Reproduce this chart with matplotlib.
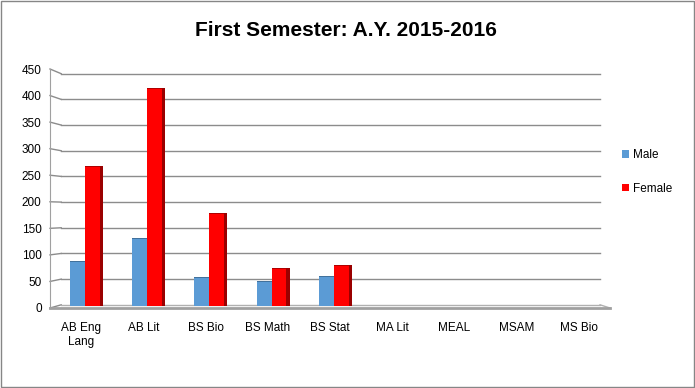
import matplotlib.pyplot as plt
import numpy as np

programs = ["AB Eng\nLang", "AB Lit", "BS Bio", "BS Math", "BS Stat",
            "MA Lit", "MEAL", "MSAM", "MS Bio"]
male = [85, 128, 56, 48, 58, 0, 0, 0, 0]
female = [265, 412, 176, 73, 78, 0, 0, 0, 0]
yticks = [0, 50, 100, 150, 200, 250, 300, 350, 400, 450]

plt.rcParams['font.family'] = ['Liberation Sans', 'DejaVu Sans']

fig = plt.figure(figsize=(6.95, 3.88), dpi=100)
# axes placed to match the plot area (pixels: x 50..610, y 69..308)
ax = fig.add_axes([50 / 695, (388 - 308) / 388, 560 / 695, 239 / 388])

x = np.arange(len(programs))
w = 0.24
grid_c = '#8c8c8c'

# back wall gridlines with a small perspective step from the front axis
for v in yticks:
    vb = 6 + 0.967 * v
    ax.plot([-0.5, -0.32], [v, vb], color=grid_c, lw=1, zorder=1, clip_on=False)
    if v > 0:
        ax.plot([-0.32, 8.34], [vb, vb], color=grid_c, lw=1, zorder=1, clip_on=False)
# floor
ax.plot([-0.32, 8.34], [6, 6], color='#b0b0b0', lw=1, zorder=1, clip_on=False)
ax.plot([8.34, 8.5], [6, 0], color='#b0b0b0', lw=1, zorder=1, clip_on=False)
ax.plot([-0.5, 8.5], [0, 0], color='#a0a0a0', lw=2, zorder=1, clip_on=False)

base = 3
xm = x - 0.06
xf = x + 0.18
# side faces (depth) of the columns
ax.bar(xf + w / 2 + 0.025, female, width=0.05, bottom=base, color='#9a0000', zorder=2)
ax.bar(xm + w / 2 + 0.025, male, width=0.05, bottom=base, color='#3f6f9c', zorder=2)
ax.bar(xm, male, width=w, bottom=base, color='#5b9bd5', edgecolor='none', zorder=3,
       label='Male')
ax.bar(xf, female, width=w, bottom=base, color='#ff0000', edgecolor='none', zorder=4,
       label='Female')
# darker top edge
ax.bar(xm, [2 if m else 0 for m in male], width=w, bottom=np.array(male) + base - 2,
       color='#41719c', zorder=3)
ax.bar(xf, [2 if f else 0 for f in female], width=w, bottom=np.array(female) + base - 2,
       color='#b00000', zorder=4)

ax.set_xlim(-0.5, 8.5)
ax.set_ylim(0, 450)
ax.set_yticks(yticks)
ax.set_xticks(x)
ax.set_xticklabels(programs, fontsize=8.5)
ax.tick_params(axis='y', labelsize=8.5, length=0, pad=6)
ax.tick_params(axis='x', length=0, pad=10)
for s in ['top', 'right', 'bottom']:
    ax.spines[s].set_visible(False)
ax.spines['left'].set_color('#a0a0a0')

fig.text(0.498, 1 - 30 / 388, "First Semester: A.Y. 2015-2016", ha='center', va='center',
         fontsize=15, fontweight='bold')

ax.legend(loc='center left', bbox_to_anchor=(611 / 695, 1 - 172 / 388),
          bbox_transform=fig.transFigure, frameon=False, fontsize=8.5,
          handlelength=0.6, handleheight=0.6, handletextpad=0.4, labelspacing=1.8)

fig.patches.append(plt.Rectangle((0.001, 0.002), 0.997, 0.996, transform=fig.transFigure,
                                 fill=False, edgecolor='#868686', lw=1))

fig.savefig('out.png', dpi=100)
